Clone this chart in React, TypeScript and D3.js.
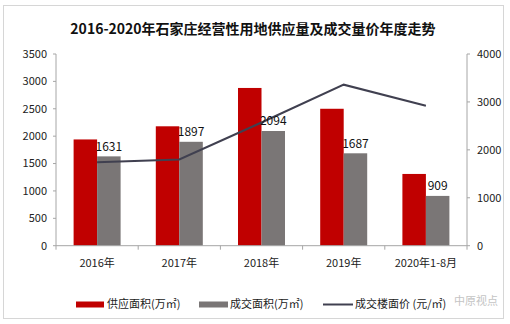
import React from "react";
import * as d3 from "d3";

const categories = ["2016年", "2017年", "2018年", "2019年", "2020年1-8月"];
const supplyArea = [1940, 2180, 2880, 2500, 1310];
const dealArea = [1631, 1897, 2094, 1687, 909];
const dealPrice = [1740, 1800, 2570, 3360, 2920];
const leftTicks = [0, 500, 1000, 1500, 2000, 2500, 3000, 3500];
const rightTicks = [0, 1000, 2000, 3000, 4000];
const title = "2016-2020年石家庄经营性用地供应量及成交量价年度走势";
const legendLabels = ["供应面积(万㎡)", "成交面积(万㎡)", "成交楼面价 (元/㎡)"];

const W = 510;
const H = 324;
const FONT = "'Noto Sans CJK SC', 'Microsoft YaHei', sans-serif";
const RED = "#c00000";
const GRAY = "#7a7676";
const LINE = "#404050";

export default function App() {
  const left = 56;
  const right = 467;
  const top = 54;
  const bottom = 245.7;

  const x = d3.scaleBand<string>().domain(categories).range([left, right]).paddingInner(0).paddingOuter(0);
  const yL = d3.scaleLinear().domain([0, 3500]).range([bottom, top]);
  const yR = d3.scaleLinear().domain([0, 4000]).range([bottom, top]);
  const barW = 23.5;

  const lineGen = d3
    .line<number>()
    .x((_, i) => (x(categories[i]) as number) + x.bandwidth() / 2)
    .y((d) => yR(d));

  return (
    <svg
      width={W}
      height={H}
      style={{ position: "absolute", left: 0, top: 0, background: "#fff" }}
      fontFamily={FONT}
    >
      <rect x={3.5} y={5.5} width={500} height={313} fill="#fff" stroke="#d6d6d6" />
      <text x={253} y={34} textAnchor="middle" fontSize={14} fontWeight="bold" fill="#111">
        {title}
      </text>

      {/* left axis */}
      <line x1={left} x2={left} y1={top} y2={bottom} stroke="#a6a6a6" />
      {leftTicks.map((t) => (
        <g key={"l" + t}>
          <line x1={left - 3} x2={left} y1={yL(t)} y2={yL(t)} stroke="#a6a6a6" />
          <text x={47} y={yL(t)} dy="0.35em" textAnchor="end" fontSize={11} fill="#222">
            {t}
          </text>
        </g>
      ))}
      {/* right axis */}
      <line x1={right} x2={right} y1={top} y2={bottom} stroke="#a6a6a6" />
      {rightTicks.map((t) => (
        <g key={"r" + t}>
          <line x1={right} x2={right + 3} y1={yR(t)} y2={yR(t)} stroke="#a6a6a6" />
          <text x={477} y={yR(t)} dy="0.35em" textAnchor="start" fontSize={11} fill="#222">
            {t}
          </text>
        </g>
      ))}

      {/* bars */}
      {categories.map((c, i) => {
        const cx = (x(c) as number) + x.bandwidth() / 2;
        return (
          <g key={c}>
            <rect x={cx - barW} y={yL(supplyArea[i])} width={barW} height={bottom - yL(supplyArea[i])} fill={RED} />
            <rect x={cx} y={yL(dealArea[i])} width={barW} height={bottom - yL(dealArea[i])} fill={GRAY} />
          </g>
        );
      })}

      {/* x axis */}
      <line x1={left} x2={right} y1={bottom} y2={bottom} stroke="#a6a6a6" />
      {categories.map((c) => (
        <line key={"t" + c} x1={x(c) as number} x2={x(c) as number} y1={bottom} y2={bottom + 4} stroke="#a6a6a6" />
      ))}
      <line x1={right} x2={right} y1={bottom} y2={bottom + 4} stroke="#a6a6a6" />
      {categories.map((c) => (
        <text
          key={"xl" + c}
          x={(x(c) as number) + x.bandwidth() / 2}
          y={263}
          dy="0.35em"
          textAnchor="middle"
          fontSize={11}
          fill="#222"
        >
          {c}
        </text>
      ))}

      {/* line */}
      <path d={lineGen(dealPrice) || ""} fill="none" stroke={LINE} strokeWidth={2} />

      {/* data labels */}
      {categories.map((c, i) => (
        <text
          key={"dl" + c}
          x={(x(c) as number) + x.bandwidth() / 2 + barW / 2}
          y={yL(dealArea[i]) - 10}
          dy="0.35em"
          textAnchor="middle"
          fontSize={12}
          fill="#111"
        >
          {dealArea[i]}
        </text>
      ))}

      {/* legend */}
      <rect x={76} y={301.5} width={28} height={6} fill={RED} />
      <text x={107} y={304.5} dy="0.35em" fontSize={11} fill="#222">
        {legendLabels[0]}
      </text>
      <rect x={199} y={301.5} width={29} height={6} fill={GRAY} />
      <text x={230} y={304.5} dy="0.35em" fontSize={11} fill="#222">
        {legendLabels[1]}
      </text>
      <line x1={323} x2={353} y1={304.5} y2={304.5} stroke={LINE} strokeWidth={2} />
      <text x={355} y={304.5} dy="0.35em" fontSize={11} fill="#222">
        {legendLabels[2]}
      </text>
      <text x={454} y={301} dy="0.35em" fontSize={11} fill="#c4c4c4">
        中原视点
      </text>
    </svg>
  );
}
